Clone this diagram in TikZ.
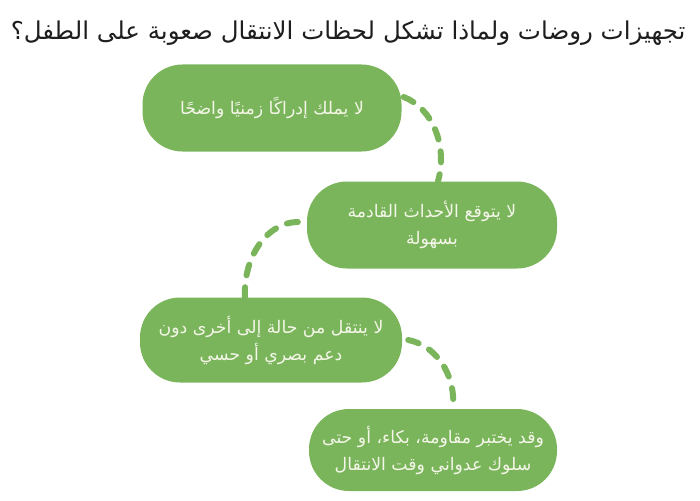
\documentclass[tikz,border=0pt]{standalone}
\usepackage{fontspec}
\TeXXeTstate=1
\newfontfamily\arabicfont[Script=Arabic]{DejaVu Sans}
\definecolor{leaf}{RGB}{122,181,92}
\definecolor{cream}{RGB}{244,246,232}
\definecolor{ink}{RGB}{30,30,30}
\begin{document}
\begin{tikzpicture}[x=1pt,y=-1pt,
  pill/.style={fill=leaf, draw=none, rounded corners=40pt, text=cream, align=center,
    inner sep=0pt, font=\arabicfont\fontsize{17.3}{27}\selectfont},
  link/.style={draw=leaf, line width=6pt, line cap=round, dash pattern=on 11pt off 12pt}]
\useasboundingbox (0,0) rectangle (700,500);
\node[anchor=base east, text=ink, font=\arabicfont\fontsize{24.5}{28}\selectfont] (title) at (689,40)
  {\beginR تجهيزات روضات ولماذا تشكل لحظات الانتقال صعوبة على الطفل؟\endR};
\node[pill, minimum width=259pt, minimum height=87pt] (b1) at (272,108)
  {\beginR لا يملك إدراكًا زمنيًا واضحًا\endR};
\node[pill, minimum width=250pt, minimum height=87pt] (b2) at (432,225)
  {\beginR لا يتوقع الأحداث القادمة\endR\\\beginR بسهولة\endR};
\node[pill, minimum width=262pt, minimum height=85pt] (b3) at (271,340)
  {\beginR لا ينتقل من حالة إلى أخرى دون\endR\\\beginR دعم بصري أو حسي\endR};
\node[pill, minimum width=248pt, minimum height=82pt] (b4) at (433,450)
  {\beginR وقد يختبر مقاومة، بكاء، أو حتى\endR\\\beginR سلوك عدواني وقت الانتقال\endR};
\draw[link] ([shift={(2,-11)}]b1.east) .. controls (432,108) and (448,145) .. ([shift={(6,0)}]b2.north);
\draw[link] ([shift={(-9,-3)}]b2.west) .. controls (268,222) and (243,256) .. ([shift={(-26,0)}]b3.north);
\draw[link] ([shift={(6,0)}]b3.east) .. controls (434,345) and (456,372) .. ([shift={(20,0)}]b4.north);
\end{tikzpicture}
\end{document}
